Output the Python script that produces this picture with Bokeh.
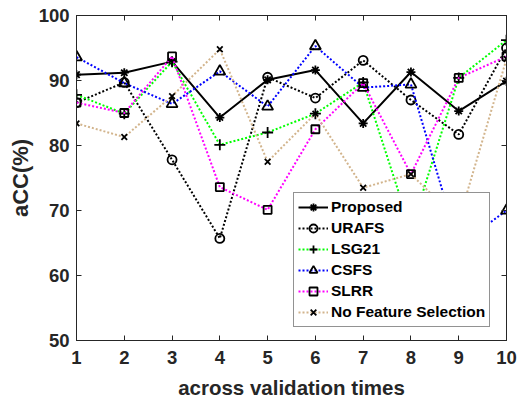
from bokeh.plotting import figure
from bokeh.models import FixedTicker, LinearAxis, Legend, LegendItem, Range1d
from bokeh.embed import file_html
from bokeh.resources import INLINE

# ---- data ----
runs = [1, 2, 3, 4, 5, 6, 7, 8, 9, 10]
proposed = [90.9, 91.2, 92.9, 84.3, 90.1, 91.6, 83.4, 91.3, 85.3, 89.9]
urafs = [86.6, 89.7, 77.8, 65.7, 90.5, 87.3, 93.1, 87.0, 81.7, 95.0]
lsg21 = [87.8, 84.9, 92.9, 80.1, 82.0, 84.9, 89.7, 67.0, 90.4, 96.2]
csfs = [93.6, 89.6, 86.4, 91.4, 86.0, 95.3, 88.9, 89.4, 64.6, 70.0]
slrr = [86.6, 85.0, 93.7, 73.6, 70.1, 82.5, 89.6, 75.6, 90.4, 93.7]
nfs = [83.4, 81.3, 87.6, 94.8, 77.5, 84.9, 73.5, 75.6, 68.4, 93.3]

series_names = ["Proposed", "URAFS", "LSG21", "CSFS", "SLRR", "No Feature Selection"]
x_ticks = [1, 2, 3, 4, 5, 6, 7, 8, 9, 10]
y_ticks = [50, 60, 70, 80, 90, 100]

FONT = "Liberation Sans"
TXT = "#262626"

p = figure(width=522, height=401, x_range=Range1d(1, 10), y_range=Range1d(50, 100),
           output_backend="svg", toolbar_location=None,
           min_border_left=76, min_border_right=16, min_border_top=15, min_border_bottom=61)
p.background_fill_color = "white"
p.border_fill_color = "white"
p.xgrid.visible = False
p.ygrid.visible = False
p.outline_line_color = TXT
p.outline_line_width = 1

styles = [
    (proposed, "black", "solid", "asterisk", 9),
    (urafs, "black", "2 2", "circle", 9),
    (lsg21, "#00FF00", "2 2", "cross", 11),
    (csfs, "#0000FF", "2 2", "triangle", 11),
    (slrr, "#FF00FF", "2 2", "square", 8),
    (nfs, "#D2B48C", "2 2", "x", 8),
]

items = []
for name, (vals, col, dash, mk, sz) in zip(series_names, styles):
    lr = p.line(runs, vals, line_color=col, line_width=2, line_dash=dash)
    sr = p.scatter(runs, vals, marker=mk, size=sz, fill_color=None,
                   line_color="black", line_width=1.8)
    items.append(LegendItem(label=name, renderers=[lr, sr]))

legend = Legend(items=items, location=(217, 13))
legend.label_text_font = FONT
legend.label_text_font_style = "bold"
legend.label_text_font_size = "15.5px"
legend.label_text_color = "black"
legend.glyph_width = 30
legend.glyph_height = 20
legend.label_height = 20
legend.spacing = 1
legend.padding = 4
legend.margin = 0
legend.label_standoff = 3
legend.border_line_color = TXT
legend.border_line_width = 1
legend.background_fill_color = "white"
legend.background_fill_alpha = 1
p.add_layout(legend, "center")

for ax in (p.xaxis[0], p.yaxis[0]):
    ax.major_label_text_font = FONT
    ax.major_label_text_font_style = "bold"
    ax.major_label_text_font_size = "18.5px"
    ax.major_label_text_color = TXT
    ax.axis_label_text_font = FONT
    ax.axis_label_text_font_style = "bold"
    ax.axis_label_text_color = TXT
    ax.axis_line_color = TXT
    ax.major_tick_line_color = TXT
    ax.major_tick_in = 5
    ax.major_tick_out = 0
    ax.minor_tick_line_color = None

p.xaxis[0].ticker = FixedTicker(ticks=x_ticks)
p.yaxis[0].ticker = FixedTicker(ticks=y_ticks)
p.xaxis[0].axis_label = "across validation times"
p.yaxis[0].axis_label = "aCC(%)"
p.xaxis[0].axis_label_text_font_size = "20.5px"
p.yaxis[0].axis_label_text_font_size = "22px"
p.xaxis[0].major_label_standoff = 10
p.yaxis[0].major_label_standoff = 7
p.xaxis[0].axis_label_standoff = 9
p.yaxis[0].axis_label_standoff = 3

# box ticks on top and right (no labels)
for side, tk in (("above", x_ticks), ("right", y_ticks)):
    ax = LinearAxis(ticker=FixedTicker(ticks=tk))
    ax.major_label_text_color = None
    ax.major_label_text_font_size = "1px"
    ax.major_label_standoff = 0
    ax.axis_line_color = TXT
    ax.major_tick_line_color = TXT
    ax.major_tick_in = 5
    ax.major_tick_out = 0
    ax.minor_tick_line_color = None
    p.add_layout(ax, side)

open("out.html", "w").write(file_html(p, INLINE))
